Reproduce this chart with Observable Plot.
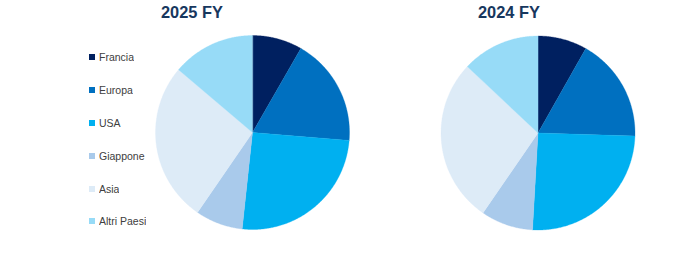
<!DOCTYPE html>
<html>
<head>
<meta charset="utf-8">
<script src="https://cdn.jsdelivr.net/npm/d3@7"></script>
<script src="https://cdn.jsdelivr.net/npm/@observablehq/plot@0.6"></script>
<style>
  html, body { margin: 0; padding: 0; background: #fff; }
  #wrap { position: relative; width: 674px; height: 253px; overflow: hidden; font-family: "Liberation Sans", Arial, sans-serif; }
  #wrap svg.main { position: absolute; left: 0; top: 0; }
  .ttl { position: absolute; font: bold 16.4px "Liberation Sans", Arial, sans-serif; line-height: 16px; color: #17375E; white-space: nowrap; }
  #legend { position: absolute; left: 89px; top: 40.5px; }
  #legend .lg-swatches { font-family: "Liberation Sans", Arial, sans-serif; font-size: 10.5px; color: #404040; margin: 0; }
  #legend .lg-swatch { height: 32.9px; padding: 0; }
  #legend .lg-swatch > svg { margin-right: 4px; }
</style>
</head>
<body>
<div id="wrap"></div>
<script>
// ---- data ----
const categories = ["Francia", "Europa", "USA", "Giappone", "Asia", "Altri Paesi"];
const colors = ["#002060", "#0070C0", "#00B0F0", "#A9CAEB", "#DDEBF7", "#97DBF7"];
const years = ["2025 FY", "2024 FY"];
const values2025 = [8.3, 18.0, 25.4, 7.9, 26.6, 13.8];
const values2024 = [8.2, 17.3, 25.4, 8.7, 27.4, 13.0];

// ---- layout (pixels) ----
const W = 674, H = 253, R = 97;
const centersPx = [[252, 132], [537.5, 132.5]];
const titleLeft = [161, 478];

// build wedge polygons in "radius = 1" units
const pie = d3.pie().sort(null).value(d => d);
const rows = [];
[values2025, values2024].forEach((vals, k) => {
  const cx = (centersPx[k][0] - centersPx[0][0]) / R;
  const cy = (centersPx[0][1] - centersPx[k][1]) / R;
  pie(vals).forEach((a, i) => {
    const key = years[k] + "|" + categories[i];
    rows.push({key, category: categories[i], x: cx, y: cy});
    const n = Math.max(2, Math.ceil((a.endAngle - a.startAngle) / (Math.PI / 360)));
    for (let j = 0; j <= n; j++) {
      const t = a.startAngle + (a.endAngle - a.startAngle) * j / n;
      rows.push({key, category: categories[i], x: cx + Math.sin(t), y: cy + Math.cos(t)});
    }
  });
});

const plot = Plot.plot({
  width: W, height: H,
  margin: 0,
  x: {domain: [-centersPx[0][0] / R, (W - centersPx[0][0]) / R], axis: null},
  y: {domain: [-(H - centersPx[0][1]) / R, centersPx[0][1] / R], axis: null},
  color: {domain: categories, range: colors},
  marks: [
    Plot.line(rows, {x: "x", y: "y", z: "key", fill: "category", stroke: "category", strokeWidth: 0.3, curve: "linear-closed"})
  ]
});
plot.classList.add("main");

const wrap = document.getElementById("wrap");
wrap.appendChild(plot);

years.forEach((y, k) => {
  const d = document.createElement("div");
  d.className = "ttl";
  d.textContent = y;
  d.style.left = titleLeft[k] + "px";
  d.style.top = "3.6px";
  wrap.appendChild(d);
});

const lgHolder = document.createElement("div");
lgHolder.id = "legend";
lgHolder.appendChild(Plot.legend({
  color: {domain: categories, range: colors},
  columns: 1,
  swatchSize: 6,
  className: "lg"
}));
wrap.appendChild(lgHolder);
</script>
</body>
</html>
